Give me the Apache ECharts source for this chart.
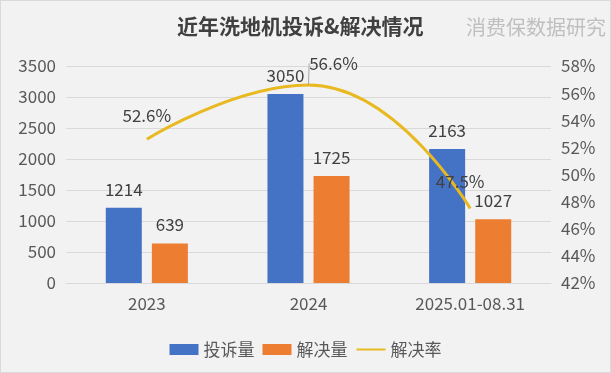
<!DOCTYPE html>
<html><head><meta charset="utf-8">
<script src="https://cdn.jsdelivr.net/npm/echarts@6/dist/echarts.min.js"></script>
<style>
html,body{margin:0;padding:0;background:#fff;}
#c{position:absolute;left:0;top:0;width:609px;height:371px;border:1px solid #d9d9d9;background:#f2f2f2;}
</style></head>
<body><div id="c"></div>
<script>
const categories = ['2023', '2024', '2025.01-08.31'];
const complaints = [1214, 3050, 2163];
const resolved = [639, 1725, 1027];
const rate = [52.6, 56.6, 47.5];
const leftTicks = [0, 3500, 500];
const rightTicks = [42, 58, 2];

const font = '"Noto Sans CJK SC", "Noto Sans", sans-serif';
const chart = echarts.init(document.getElementById('c'));
const rateLabelOffset = [[0, -10], [0, 0], [-10, -13]];
const leaderIndex = 1;
const labelStyle = { fontSize: 17, color: '#404040', fontFamily: font };
chart.setOption({
  backgroundColor: '#f2f2f2',
  textStyle: { fontFamily: font },
  title: [
    { text: '近年洗地机投诉&解决情况', left: 171, top: 10,
      textStyle: { fontSize: 21, fontWeight: 'bold', color: '#404040', fontFamily: font } },
    { text: '消费保数据研究', left: 460, top: 11,
      textStyle: { fontSize: 20, fontWeight: 'normal', color: '#bfbfbf', fontFamily: font } }
  ],
  legend: {
    bottom: 9, left: 'center', itemWidth: 29, itemHeight: 11, itemGap: 8,
    textStyle: { fontSize: 17, color: '#595959', fontFamily: font },
    data: [
      { name: '投诉量', icon: 'rect' },
      { name: '解决量', icon: 'rect' },
      { name: '解决率', itemStyle: { opacity: 0 } }
    ]
  },
  grid: { left: 65, right: 59, top: 65, bottom: 89 },
  xAxis: {
    type: 'category', data: categories,
    axisLine: { lineStyle: { color: '#d9d9d9' } },
    axisTick: { show: false },
    axisLabel: { fontSize: 17, color: '#595959', margin: 12, fontFamily: font }
  },
  yAxis: [
    { type: 'value', min: leftTicks[0], max: leftTicks[1], interval: leftTicks[2],
      axisLabel: { fontSize: 17, color: '#595959', margin: 10, fontFamily: font,
        formatter: function (v) { return String(v); } },
      splitLine: { lineStyle: { color: '#d9d9d9' } },
      axisLine: { show: false }, axisTick: { show: false } },
    { type: 'value', min: rightTicks[0], max: rightTicks[1], interval: rightTicks[2],
      axisLabel: { fontSize: 17, color: '#595959', margin: 10, formatter: '{value}%', fontFamily: font },
      splitLine: { show: false },
      axisLine: { show: false }, axisTick: { show: false } }
  ],
  series: [
    { name: '投诉量', type: 'bar', data: complaints, barWidth: 36, barGap: '28%',
      itemStyle: { color: '#4472c4' },
      label: Object.assign({ show: true, position: 'top', distance: 10 }, labelStyle) },
    { name: '解决量', type: 'bar', data: resolved, barWidth: 36,
      itemStyle: { color: '#ed7d31' },
      label: Object.assign({ show: true, position: 'top', distance: 10 }, labelStyle) },
    { name: '解决率', type: 'line', yAxisIndex: 1,
      data: rate.map(function (v, i) {
        return { value: v, label: { show: i !== leaderIndex, position: 'top', offset: rateLabelOffset[i] } };
      }),
      smooth: true,
      symbol: 'circle', symbolSize: 0.1, showSymbol: true,
      lineStyle: { color: '#e8b920', width: 3 },
      itemStyle: { color: '#e8b920' },
      label: Object.assign({ show: true, position: 'top', formatter: '{c}%' }, labelStyle),
      z: 5 },
    { name: '解决率-标注', type: 'line', yAxisIndex: 1,
      data: rate.map(function (v, i) { return i === leaderIndex ? v : null; }),
      symbol: 'circle', symbolSize: 0.1, showSymbol: true,
      lineStyle: { width: 0, color: 'rgba(0,0,0,0)' }, itemStyle: { color: 'rgba(0,0,0,0)' },
      label: Object.assign({ show: true, position: 'top', formatter: '{c}%' }, labelStyle),
      labelLine: { show: true, lineStyle: { color: '#a6a6a6', width: 1 } },
      labelLayout: { dx: 25, dy: -8 },
      silent: true, z: 6 }
  ]
});
</script></body></html>
